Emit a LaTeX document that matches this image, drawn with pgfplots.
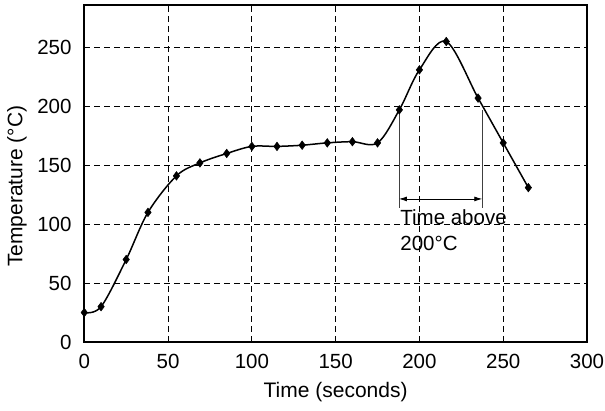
\documentclass[border=0pt]{standalone}
\usepackage{pgfplots}
\pgfplotsset{compat=1.18}
\usepackage{fontspec}
\setmainfont{Liberation Sans}
\usetikzlibrary{arrows.meta}
\begin{document}
\begin{tikzpicture}[font=\fontsize{20.5bp}{24bp}\selectfont]
\begin{axis}[name=ax, scale only axis, width=502.7bp, height=337bp,
  xmin=0, xmax=300, ymin=0, ymax=286,
  xtick={0,50,...,300}, ytick={0,50,...,250},
  major tick length=0pt,
  grid=major,
  major grid style={black, line width=0.8bp, dash pattern=on 6bp off 4bp},
  axis line style={line width=2bp},
  /pgf/number format/assume math mode=true,
  xticklabel style={anchor=base, inner sep=0pt, yshift=-26.3bp},
  yticklabel style={anchor=east, inner sep=0pt, xshift=-12.6bp},
  clip=false,
]
\addplot[black, line width=1.5bp, smooth, tension=0.55, mark=diamond*, mark size=4.3bp, mark options={solid, line width=0.5bp}] coordinates {
(0,25) (10,30) (25,70) (38,110) (55,141) (69,152) (85,160) (100,166) (115,166) (130,167) (145,169) (160,170) (175,169) (188,197) (200,231) (216,255) (235,207) (250,169) (265,131)
};
\draw[black!75, line width=0.8bp] (axis cs:187.8,196.6) -- (axis cs:187.8,113.8);
\draw[black!75, line width=0.8bp] (axis cs:237.5,196.6) -- (axis cs:237.5,113.8);
\draw[{Latex[length=8bp,width=5bp]}-{Latex[length=8bp,width=5bp]}, black, line width=0.8bp] (axis cs:187.8,121.4) -- (axis cs:237.5,121.4);
\node[anchor=base west, inner sep=0pt] at (axis cs:188.5,99.6) {Time above};
\node[anchor=base west, inner sep=0pt] at (axis cs:188.5,77.4) {200°C};
\end{axis}
\node[anchor=base, inner sep=0pt, font=\fontsize{21bp}{24bp}\selectfont] at ([yshift=-55.3bp]ax.south) {Time (seconds)};
\node[rotate=90, inner sep=0pt, font=\fontsize{21bp}{24bp}\selectfont] at ([xshift=-67.3bp, yshift=155.7bp]ax.south west) {Temperature (°C)};
\pgfresetboundingbox
\path ([xshift=-84.3bp,yshift=-68.3bp]ax.south west) rectangle ([xshift=18bp,yshift=5bp]ax.north east);
\end{tikzpicture}
\end{document}
